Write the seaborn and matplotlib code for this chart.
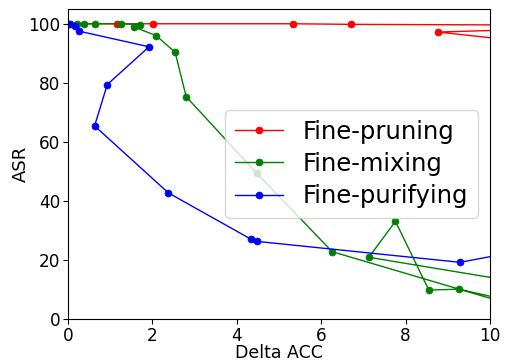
import matplotlib
matplotlib.use("Agg")
import matplotlib.pyplot as plt
import seaborn as sns
import pandas as pd

# Data (points beyond x=10 are clipped by the axes)
prune_x = [0.0, 1.17, 2.01, 5.33, 6.70, 14.1, 8.76, 12.0]
prune_y = [100.0, 100.0, 100.0, 100.0, 99.8, 99.4, 97.2, 92.2]

mix_x = [0.0, 0.21, 0.39, 0.63, 1.26, 1.71, 1.56, 2.09, 2.54, 2.80, 4.47, 6.26, 11.5, 13.0, 7.13, 7.76, 8.55, 9.26, 11.0]
mix_y = [100.0, 100.0, 100.0, 100.0, 100.0, 99.7, 98.9, 96.0, 90.3, 75.3, 49.4, 22.8, 0.7, 7.0, 20.9, 33.1, 9.8, 10.1, 4.5]

pur_x = [0.0, 0.05, 0.17, 0.26, 1.92, 0.93, 0.63, 2.38, 4.34, 4.47, 9.29, 11.0]
pur_y = [100.0, 100.0, 99.4, 97.5, 92.2, 79.4, 65.4, 42.7, 27.0, 26.3, 19.2, 23.8]

labels = ["Fine-pruning", "Fine-mixing", "Fine-purifying"]
colors = ["red", "green", "blue"]

fig = plt.figure(figsize=(5.07, 3.60), dpi=100)
ax = fig.add_axes([68 / 507, 41 / 360, 422 / 507, 310 / 360])

for xs, ys, lab, col in zip([prune_x, mix_x, pur_x], [prune_y, mix_y, pur_y], labels, colors):
    df = pd.DataFrame({"x": xs, "y": ys})
    sns.lineplot(data=df, x="x", y="y", sort=False, estimator=None, ax=ax,
                 color=col, marker="o", markersize=5, linewidth=1,
                 markeredgecolor=col, markeredgewidth=0.5, label=lab)

ax.set_xlim(0, 10)
ax.set_ylim(0, 105)
ax.set_xticks([0, 2, 4, 6, 8, 10])
ax.set_yticks([0, 20, 40, 60, 80, 100])
ax.tick_params(labelsize=12.2, pad=2)
ax.set_xlabel("Delta ACC", fontsize=12.5, labelpad=-0.8)
ax.set_ylabel("ASR", fontsize=13, labelpad=-1)
for s in ax.spines.values():
    s.set_color("black")
ax.legend(loc="center right", fontsize=17.5, labelspacing=0.33)

fig.savefig("out.png", dpi=100)
